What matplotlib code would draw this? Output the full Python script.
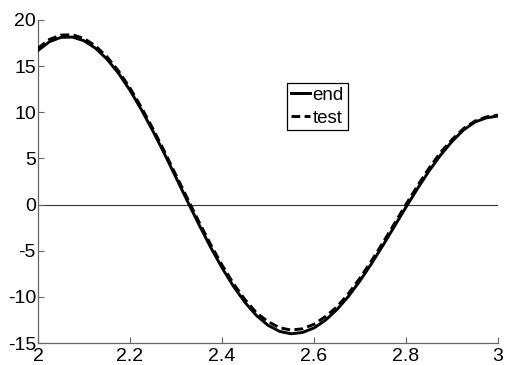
import matplotlib
matplotlib.use("Agg")
import matplotlib.pyplot as plt
import numpy as np

x_vals = [2.000, 2.025, 2.050, 2.075, 2.100, 2.125, 2.150, 2.175, 2.200, 2.225,
          2.250, 2.275, 2.300, 2.325, 2.350, 2.375, 2.400, 2.425, 2.450, 2.475,
          2.500, 2.525, 2.550, 2.575, 2.600, 2.625, 2.650, 2.675, 2.700, 2.725,
          2.750, 2.775, 2.800, 2.825, 2.850, 2.875, 2.900, 2.925, 2.950, 2.975, 3.000]
end_vals = [16.70, 17.65, 18.12, 18.15, 17.75, 16.94, 15.76, 14.23, 12.38, 10.26,
            7.95, 5.49, 2.93, 0.35, -2.18, -4.60, -6.85, -8.87, -10.60, -12.03,
            -13.08, -13.74, -14.00, -13.86, -13.37, -12.53, -11.37, -9.94, -8.26, -6.40,
            -4.41, -2.35, -0.28, 1.73, 3.63, 5.35, 6.84, 8.08, 8.95, 9.40, 9.60]
test_vals = [16.95, 17.90, 18.37, 18.40, 18.00, 17.19, 16.01, 14.48, 12.63, 10.51,
             8.20, 5.74, 3.18, 0.65, -1.88, -4.30, -6.55, -8.57, -10.30, -11.73,
             -12.68, -13.34, -13.60, -13.46, -12.97, -12.13, -11.07, -9.64, -7.96, -6.10,
             -4.11, -2.05, 0.02, 2.03, 3.93, 5.65, 7.04, 8.23, 9.05, 9.50, 9.70]
legend_labels = ["end", "test"]
x_ticks = [2, 2.2, 2.4, 2.6, 2.8, 3]
x_ticklabels = ["2", "2.2", "2.4", "2.6", "2.8", "3"]
y_ticks = [-15, -10, -5, 0, 5, 10, 15, 20]
y_ticklabels = ["-15", "-10", "-5", "0", "5", "10", "15", "20"]

plt.rcParams['font.family'] = ['Liberation Sans', 'DejaVu Sans']
plt.rcParams['axes.unicode_minus'] = False

fig = plt.figure(figsize=(5.05, 3.65), dpi=100)
ax = fig.add_axes([38/505, 22/365, 460/505, 323/365])

ax.axhline(0, color='#333333', linewidth=0.8, zorder=1)
ax.plot(x_vals, end_vals, color='black', linestyle='-', linewidth=2.1, label=legend_labels[0], zorder=3)
ax.plot(x_vals, test_vals, color='black', linestyle=(0, (3.0, 1.5)), linewidth=2.1, label=legend_labels[1], zorder=3)

ax.set_xlim(2, 3)
ax.set_ylim(-15, 20)
ax.set_xticks(x_ticks)
ax.set_xticklabels(x_ticklabels)
ax.set_yticks(y_ticks)
ax.set_yticklabels(y_ticklabels)

for s in ['top', 'right']:
    ax.spines[s].set_visible(False)
for s in ['left', 'bottom']:
    ax.spines[s].set_color('#666666')
    ax.spines[s].set_linewidth(0.9)
ax.tick_params(direction='in', length=4, width=0.8, color='#666666', labelsize=14, labelcolor='black')
ax.tick_params(axis='x', pad=3.5)
ax.tick_params(axis='y', pad=1.5)

leg = ax.legend(loc='upper left', bbox_to_anchor=(0.541, 0.805), borderaxespad=0,
                handlelength=1.05, handletextpad=0.12, borderpad=0.2, labelspacing=0.3,
                fontsize=13.5, fancybox=False, framealpha=1, edgecolor='black')
leg.get_frame().set_linewidth(0.9)

fig.savefig('out.png', dpi=100)
